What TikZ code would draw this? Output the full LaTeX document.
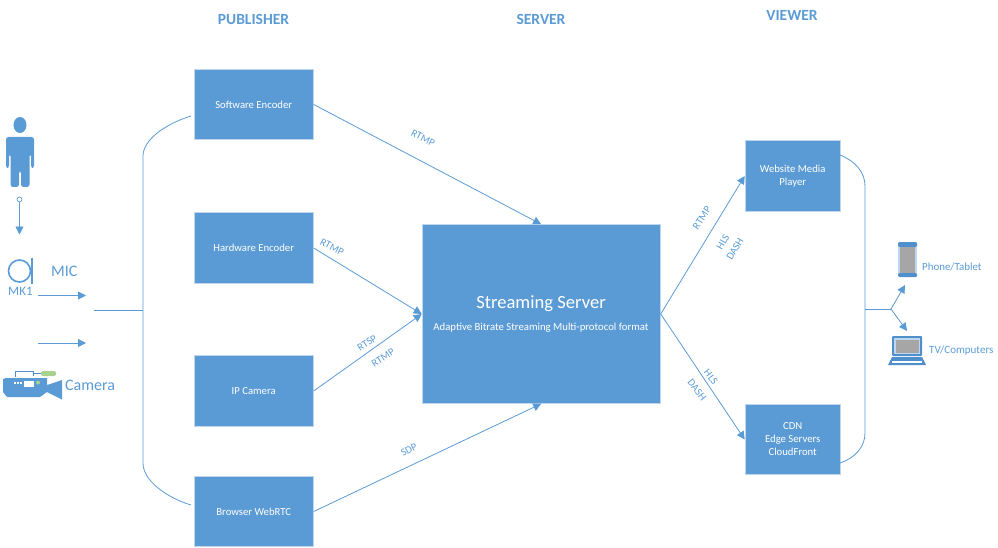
\documentclass[tikz,border=0pt]{standalone}
\usepackage{fontspec}
\setmainfont{Carlito}
\usetikzlibrary{arrows.meta}
\definecolor{boxblue}{HTML}{5B9BD5}
\definecolor{iconblue}{HTML}{4F8FCB}
\definecolor{edgeblue}{HTML}{BDD7EE}
\definecolor{screengray}{HTML}{A6A6A6}
\definecolor{ledgreen}{HTML}{A9D18E}
\tikzset{
  stagebox/.style={draw=edgeblue,line width=0.5pt,fill=boxblue,text=white,align=center,anchor=center,inner sep=0pt,font=\fontsize{10.7}{13}\selectfont},
  heading/.style={text=boxblue,font=\fontsize{15.5}{17}\selectfont\bfseries},
  wirelabel/.style={text=boxblue,font=\fontsize{10.5}{12}\selectfont},
  sidelabel/.style={text=boxblue,anchor=west,inner sep=0pt,font=\fontsize{16}{18}\selectfont},
  wire/.style={draw=boxblue,line width=0.8pt},
  flow/.style={wire,-{Triangle[length=8pt,width=8pt]}},
}
\begin{document}
\begin{tikzpicture}[x=1pt,y=-1pt]
    \useasboundingbox (0,0) rectangle (998,548);

    % Column headings
    \node[heading] (pubhead) at (253.5,19) {PUBLISHER};
    \node[heading] (srvhead) at (541,19) {SERVER};
    \node[heading] (viewhead) at (792,15) {VIEWER};

    % Publisher boxes
    \node[stagebox,minimum width=119.5pt,minimum height=70pt] (software) at (253.7,104.5) {Software Encoder};
    \node[stagebox,minimum width=119.5pt,minimum height=71pt] (hardware) at (253.7,248) {Hardware Encoder};
    \node[stagebox,minimum width=119.5pt,minimum height=71pt] (ipcam) at (253.7,391) {IP Camera};
    \node[stagebox,minimum width=119.5pt,minimum height=70pt] (browser) at (253.7,511.5) {Browser WebRTC};

    % Server box
    \node[stagebox,minimum width=238.5pt,minimum height=179pt] (server) at (541.2,314) {};
    \node[text=white,font=\fontsize{18.6}{21}\selectfont] (srvtitle) at (541,303.5) {Streaming Server};
    \node[text=white,font=\fontsize{10.75}{13}\selectfont] (srvsub) at (541,327.5) {Adaptive Bitrate Streaming Multi-protocol format};

    % Viewer boxes
    \node[stagebox,minimum width=95.5pt,minimum height=71pt] (website) at (792.7,176) {Website Media\\Player};
    \node[stagebox,minimum width=95.5pt,minimum height=70pt] (cdn) at (792.7,439.5) {CDN\\Edge Servers\\CloudFront};

    % Arrows into the server
    \draw[flow] (software.east) -- (server.north);
    \draw[flow] (hardware.east) -- (server.west);
    \draw[flow] (ipcam.east) -- (server.west);
    \draw[flow] (browser.east) -- (server.south);

    % Arrows out of the server
    \draw[flow] (server.east) -- (website.west);
    \draw[flow] (server.east) -- (cdn.west);

    % Labels on the arrows
    \node[wirelabel,rotate=-27] (lbsoft) at (423,138) {RTMP};
    \node[wirelabel,rotate=-27] (lbhard) at (332,247) {RTMP};
    \node[wirelabel,rotate=33] (lbrtsp) at (367,343) {RTSP};
    \node[wirelabel,rotate=33] (lbrtmp) at (383,358) {RTMP};
    \node[wirelabel,rotate=27] (lbsdp) at (409,450) {SDP};
    \node[wirelabel,rotate=57] (lbweb) at (702,218) {RTMP};
    \node[wirelabel,rotate=60] (lbhlsa) at (723,242) {HLS};
    \node[wirelabel,rotate=60] (lbdasha) at (735,249) {DASH};
    \node[wirelabel,rotate=-52] (lbhlsb) at (711,377) {HLS};
    \node[wirelabel,rotate=-52] (lbdashb) at (697,390) {DASH};

    % Left bracket
    \coordinate (brtop) at (191,116);
    \coordinate (brbot) at (191,505);
    \coordinate (brmid) at (143,310);
    \coordinate (brin) at (94,310);
    \draw[wire] (brtop) .. controls (165,124) and (143,140) .. (143,156) -- (143,463) .. controls (143,480) and (165,497) .. (brbot);
    \draw[wire] (brin) -- (brmid);

    % Right bracket
    \coordinate (ketop) at (840,155);
    \coordinate (kebot) at (840,463);
    \coordinate (kemid) at (865,309);
    \coordinate (kefork) at (891,309);
    \coordinate (kephone) at (905,285);
    \coordinate (kelaptop) at (907,331);
    \draw[wire] (ketop) .. controls (855,161) and (865,172) .. (865,186) -- (865,433) .. controls (865,447) and (855,458) .. (kebot);
    \draw[wire] (kemid) -- (kefork);
    \draw[flow] (kefork) -- (kephone);
    \draw[flow] (kefork) -- (kelaptop);

    % Person
    \fill[boxblue] (20,125) ellipse (6.5pt and 8pt);
    \fill[boxblue,rounded corners=2.5pt] (6,168) -- (6,137) -- (34,137) -- (34,168) -- (31,168) -- (31,154) -- (29.5,154) -- (29.5,187) -- (21,187) -- (21,171) -- (19,171) -- (19,187) -- (10.5,187) -- (10.5,154) -- (9,154) -- (9,168) -- cycle;
    \node[circle,draw=iconblue,fill=white,line width=0.6pt,minimum size=5pt,inner sep=0pt] (jack) at (19.5,199.5) {};
    \coordinate (jackend) at (19.5,234.5);
    \draw[flow] (jack) -- (jackend);

    % Microphone
    \draw[boxblue,line width=1.6pt] (19.5,271) circle (11pt);
    \draw[boxblue,line width=2pt] (31.5,257.5) -- (31.5,283.5);
    \node[sidelabel,font=\fontsize{13}{15}\selectfont] (mklabel) at (8,291.5) {MK1};
    \node[sidelabel] (miclabel) at (51,271) {MIC};

    % Arrows beside the microphone and camera
    \coordinate (micfrom) at (38,295.5);
    \coordinate (micto) at (86,295.5);
    \coordinate (camfrom) at (38,343);
    \coordinate (camto) at (86,343);
    \draw[flow] (micfrom) -- (micto);
    \draw[flow] (camfrom) -- (camto);

    % Camera
    \fill[boxblue] (3,379) -- (6,378) -- (47,378) -- (47,385) -- (62,380) -- (62,399.5) -- (47,392) -- (40,397) -- (7,397) -- (3,392) -- cycle;
    \draw[iconblue,line width=0.5pt] (15,377) -- (15,371.5) -- (33,371.5) -- (33,376);
    \draw[iconblue,line width=0.5pt] (33,373.5) -- (42,373.5);
    \fill[ledgreen,rounded corners=2pt] (41,371) rectangle (56,376);
    \fill[white] (24,381) rectangle (33.5,386.5);
    \fill[ledgreen] (38,382.5) circle (2pt);
    \foreach \dotx in {14,17,20} {
        \fill[white] (\dotx,382) rectangle ++(2,2);
    }
    \node[sidelabel] (camlabel) at (65,385) {Camera};

    % Phone
    \fill[edgeblue] (898,242) rectangle (917,277);
    \fill[iconblue,rounded corners=1.5pt] (898,242) rectangle (917,247);
    \fill[iconblue,rounded corners=1.5pt] (898,273) rectangle (917,277);
    \fill[screengray] (900,247) rectangle (915,273);
    \node[sidelabel,font=\fontsize{10.9}{13}\selectfont] (phonelabel) at (922,266.5) {Phone/Tablet};

    % Laptop
    \fill[iconblue,rounded corners=1pt] (892,336) rectangle (922,356);
    \fill[edgeblue] (894,338) rectangle (920,354);
    \fill[screengray] (895.5,339.5) rectangle (918.5,352.5);
    \fill[iconblue] (892,357) -- (922,357) -- (926,365) -- (888,365) -- cycle;
    \fill[white] (892,360.5) rectangle (922,362.5);
    \node[sidelabel,font=\fontsize{11}{13}\selectfont] (laptoplabel) at (929,351) {TV/Computers};
\end{tikzpicture}
\end{document}
